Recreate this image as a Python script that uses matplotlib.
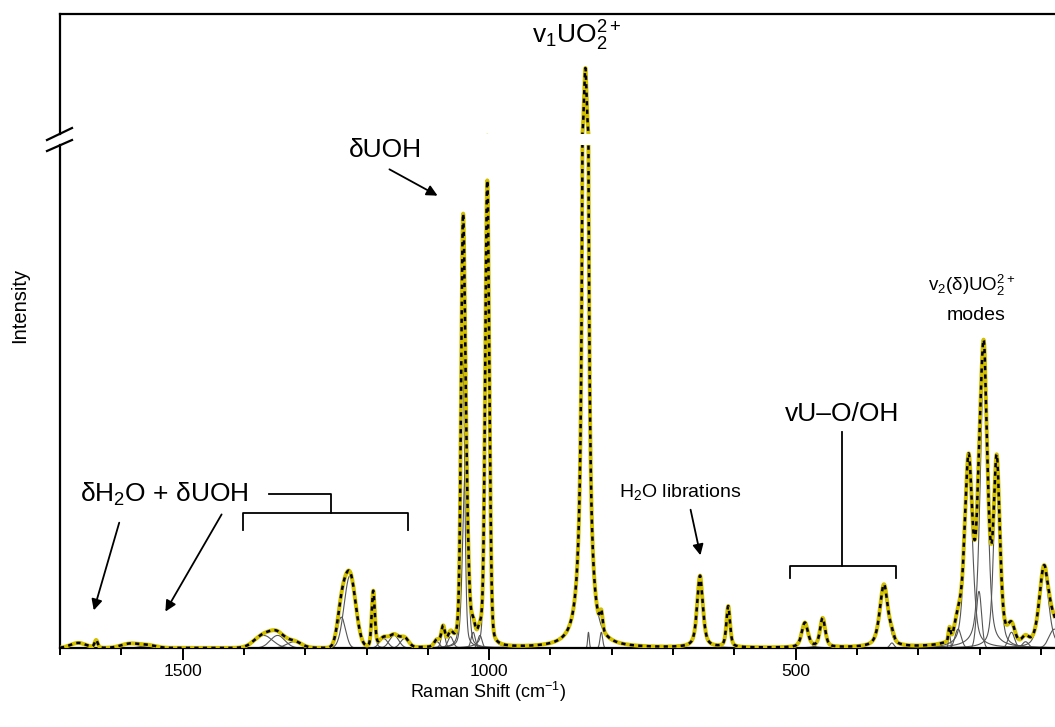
import numpy as np
import matplotlib
matplotlib.use("Agg")
import matplotlib.pyplot as plt
from matplotlib.lines import Line2D

plt.rcParams['font.family'] = ['Liberation Sans', 'DejaVu Sans']
plt.rcParams['mathtext.fontset'] = 'custom'
plt.rcParams['mathtext.rm'] = 'Liberation Sans'
plt.rcParams['mathtext.it'] = 'Liberation Sans:italic'
plt.rcParams['mathtext.default'] = 'regular'

# ---- fitted band components (centre cm-1, height, FWHM cm-1, Lorentzian fraction)
centers = [1670, 1641, 1585, 1555, 1368, 1345, 1318, 1241, 1227, 1189, 1172, 1155,
           1138, 1085, 1075, 1063, 1043, 1039, 1026, 1015, 1003, 843, 838, 817,
           656, 610, 485, 456, 356, 343, 249, 235, 218, 201, 193, 172, 148, 125,
           95, 78]
heights = [0.8, 1.2, 0.7, 0.4, 2.0, 2.0, 1.0, 4.9, 11.5, 9.0, 1.5, 2.0,
           1.5, 1.0, 3.0, 1.8, 50, 28, 2.5, 2.0, 74, 300, 2.5, 2.5,
           11.4, 6.5, 3.9, 4.6, 10.0, 0.8, 2.0, 3.0, 29, 9.0, 45, 28, 2.5, 1.0,
           12.5, 3.0]
fwhms = [30, 6, 35, 30, 35, 28, 28, 16, 22, 6, 16, 18,
         16, 10, 7, 10, 7, 10, 8, 8, 8, 6, 3, 5,
         11, 7, 12, 10, 16, 8, 4, 12, 15, 10, 14, 12, 12, 12,
         18, 20]
lfrac = [0, 0.3, 0, 0, 0, 0, 0, 0, 0, 0.3, 0, 0,
         0, 0, 0.3, 0.3, 0.3, 0.3, 0, 0, 0.2, 0.9, 0, 0,
         0.6, 0.5, 0.5, 0.5, 0.6, 0, 0, 0, 0.5, 0, 0.5, 0.5, 0, 0,
         0.5, 0]

x_ticks_major = [1500, 1000, 500]
x_min, x_max = 1700, 77
y_low = (0, 80)
y_high = (80, 480)


def band(x, c, a, w, eta):
    lor = 1.0 / (1.0 + ((x - c) / (w / 2.0)) ** 2)
    gau = np.exp(-4 * np.log(2) * ((x - c) / w) ** 2)
    return a * (eta * lor + (1 - eta) * gau)


x = np.linspace(x_max - 5, x_min + 5, 8000)
comps = [band(x, c, a, w, e) for c, a, w, e in zip(centers, heights, fwhms, lfrac)]
total = np.sum(comps, axis=0)

W, H = 1055, 727
fig = plt.figure(figsize=(W / 100, H / 100), dpi=100)


def fx(px):
    return px / W


def fy(py):
    return 1 - py / H


ax = fig.add_axes([fx(60), fy(648), fx(1055) - fx(60), fy(145) - fy(648)])
axt = fig.add_axes([fx(60), fy(134), fx(1055) - fx(60), fy(14) - fy(134)])

for a in (ax, axt):
    for cmp in comps:
        a.plot(x, cmp, color='#555555', lw=0.8, zorder=2)
    a.plot(x, total, color='#d2c000', lw=2.9, zorder=3, solid_capstyle='butt')
    a.plot(x, total, color='black', lw=1.8, zorder=4, linestyle=(0, (1.7, 1.7)))
    a.set_xlim(x_min, x_max)
    a.spines['right'].set_visible(False)
    for s in a.spines.values():
        s.set_linewidth(1.6)

ax.set_ylim(*y_low)
axt.set_ylim(*y_high)
ax.spines['top'].set_visible(False)
axt.spines['bottom'].set_visible(False)
axt.set_xticks([])
axt.set_yticks([])
ax.set_yticks([])

ax.set_xticks(x_ticks_major)
ax.set_xticks(np.arange(100, 1701, 100), minor=True)
ax.tick_params(axis='x', which='major', direction='out', length=8.5, width=1.4,
               labelsize=12.5, pad=3)
ax.tick_params(axis='x', which='minor', direction='out', length=5, width=1.4)
fig.text(fx(488), fy(692), 'Raman Shift (cm$^{-1}$)', fontsize=13,
         ha='center', va='center')
fig.text(fx(20), fy(305), 'Intensity', rotation=90, fontsize=14.5,
         ha='center', va='center')

# axis break marks
for (x0, y0, x1, y1) in [(47, 140, 72, 128), (47, 151, 72, 140)]:
    fig.add_artist(Line2D([fx(x0), fx(x1)], [fy(y0), fy(y1)], color='black', lw=1.6))

# annotations
fig.text(fx(577), fy(36), r'v$_1$UO$_2^{2+}$', fontsize=19, ha='center', va='center')
fig.text(fx(385), fy(150), 'δUOH', fontsize=19, ha='center', va='center')
fig.text(fx(164), fy(494), r'δH$_2$O + δUOH', fontsize=19, ha='center', va='center')
fig.text(fx(680), fy(492), r'H$_2$O librations', fontsize=14, ha='center', va='center')
fig.text(fx(842), fy(414), 'vU–O/OH', fontsize=19, ha='center', va='center')
fig.text(fx(972), fy(285), r'v$_2$(δ)UO$_2^{2+}$', fontsize=13.5, ha='center', va='center')
fig.text(fx(976), fy(316), 'modes', fontsize=14, ha='center', va='center')


def arrow(p0, p1):
    fig.add_artist(matplotlib.patches.FancyArrowPatch(
        (fx(p0[0]), fy(p0[1])), (fx(p1[0]), fy(p1[1])), transform=fig.transFigure,
        arrowstyle='-|>', mutation_scale=16, lw=1.3, color='black'))


arrow((387, 168), (440, 197))
arrow((120, 520), (93, 613))
arrow((223, 512), (164, 614))
arrow((690, 507), (701, 558))


def poly(pts):
    fig.add_artist(Line2D([fx(p[0]) for p in pts], [fy(p[1]) for p in pts],
                          color='black', lw=1.3))


poly([(269, 494), (331, 494), (331, 513)])
poly([(243, 530), (243, 513), (408, 513), (408, 530)])
poly([(842, 432), (842, 566)])
poly([(790, 578), (790, 566), (896, 566), (896, 578)])

fig.savefig('out.png', dpi=100)
